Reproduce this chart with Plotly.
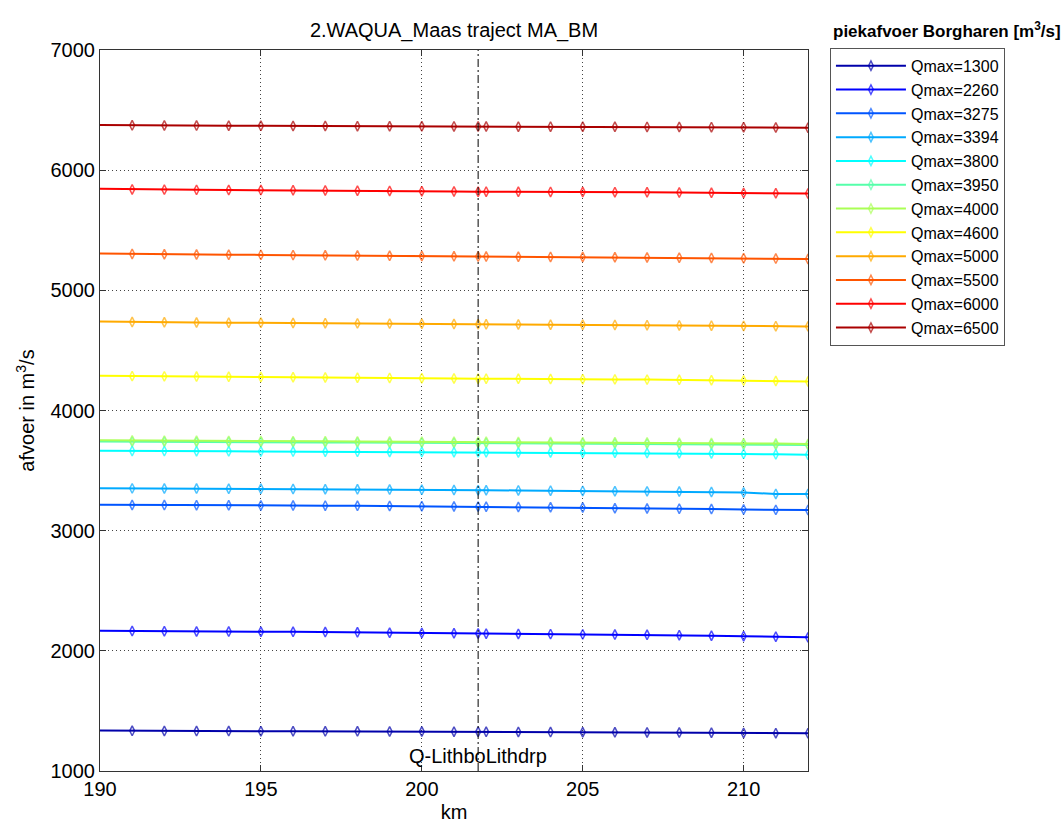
import plotly.graph_objects as go

km = [190, 191, 192, 193, 194, 195, 196, 197, 198, 199, 200, 201, 201.75,
      202, 203, 204, 205, 206, 207, 208, 209, 210, 211, 212]

series_names = ["Qmax=1300", "Qmax=2260", "Qmax=3275", "Qmax=3394", "Qmax=3800", "Qmax=3950",
                "Qmax=4000", "Qmax=4600", "Qmax=5000", "Qmax=5500", "Qmax=6000", "Qmax=6500"]

q1300 = [1336, 1334, 1333, 1332, 1332, 1331, 1331, 1330, 1330, 1329, 1328, 1327, 1326,
         1326, 1325, 1324, 1323, 1322, 1321, 1320, 1319, 1317, 1315, 1314]
q2260 = [2168, 2165, 2163, 2161, 2160, 2159, 2158, 2156, 2154, 2151, 2149, 2146, 2144,
         2143, 2141, 2139, 2137, 2135, 2133, 2130, 2126, 2122, 2117, 2112]
q3275 = [3216, 3214, 3213, 3212, 3211, 3210, 3209, 3208, 3207, 3205, 3204, 3202, 3200,
         3199, 3197, 3195, 3192, 3187, 3185, 3183, 3180, 3176, 3173, 3172]
q3394 = [3354, 3352, 3351, 3350, 3349, 3348, 3347, 3345, 3344, 3342, 3340, 3338, 3336,
         3336, 3335, 3333, 3331, 3328, 3327, 3325, 3322, 3317, 3306, 3305]
q3800 = [3666, 3663, 3662, 3661, 3660, 3659, 3658, 3657, 3656, 3655, 3654, 3653, 3652,
         3652, 3651, 3650, 3649, 3648, 3646, 3644, 3642, 3639, 3635, 3631]
q3950 = [3742, 3740, 3739, 3738, 3737, 3736, 3735, 3734, 3733, 3732, 3731, 3730, 3729,
         3729, 3728, 3727, 3726, 3725, 3724, 3722, 3720, 3718, 3715, 3712]
q4000 = [3752, 3750, 3749, 3748, 3747, 3746, 3745, 3744, 3743, 3742, 3741, 3740, 3739,
         3739, 3738, 3737, 3736, 3735, 3734, 3732, 3730, 3728, 3725, 3722]
q4600 = [4290, 4286, 4284, 4282, 4280, 4278, 4277, 4275, 4273, 4271, 4269, 4267, 4265,
         4265, 4264, 4262, 4261, 4259, 4257, 4255, 4252, 4249, 4246, 4242]
q5000 = [4740, 4736, 4734, 4732, 4731, 4730, 4728, 4727, 4725, 4723, 4721, 4719, 4717,
         4717, 4716, 4714, 4713, 4712, 4710, 4708, 4706, 4704, 4702, 4700]
q5500 = [5307, 5303, 5300, 5298, 5296, 5295, 5293, 5291, 5289, 5287, 5285, 5283, 5281,
         5281, 5280, 5278, 5277, 5275, 5274, 5272, 5270, 5267, 5264, 5261]
q6000 = [5845, 5840, 5838, 5836, 5835, 5834, 5833, 5831, 5829, 5827, 5825, 5823, 5821,
         5821, 5820, 5819, 5818, 5817, 5816, 5814, 5812, 5810, 5808, 5806]
q6500 = [6376, 6373, 6372, 6371, 6370, 6369, 6368, 6368, 6366, 6365, 6365, 6364, 6363,
         6363, 6362, 6362, 6361, 6361, 6360, 6359, 6358, 6357, 6355, 6353]

all_series = [q1300, q2260, q3275, q3394, q3800, q3950, q4000, q4600, q5000, q5500, q6000, q6500]

colors = ["rgb(0,0,170)", "rgb(0,0,255)", "rgb(0,85,255)", "rgb(0,170,255)",
          "rgb(0,255,255)", "rgb(85,255,170)", "rgb(170,255,85)", "rgb(255,255,0)",
          "rgb(255,170,0)", "rgb(255,85,0)", "rgb(255,0,0)", "rgb(170,0,0)"]

location_km = 201.75
location_label = "Q-LithboLithdrp"

x_ticks = [190, 195, 200, 205, 210]
y_ticks = [1000, 2000, 3000, 4000, 5000, 6000, 7000]

FONT = "Liberation Sans, Arial, Helvetica, sans-serif"
BIG = 20

fig = go.Figure()
marker_sizes = [0] + [7] * (len(km) - 1)
for name, vals, col in zip(series_names, all_series, colors):
    fig.add_trace(go.Scatter(
        x=km, y=vals, name=name, mode="lines+markers",
        line=dict(color=col, width=2),
        marker=dict(symbol="diamond-tall-open", size=marker_sizes,
                    color=col, line=dict(color=col, width=1.5)),
    ))

fig.add_vline(x=location_km, line=dict(color="black", width=1, dash="8px,3px,2px,3px"))
fig.add_annotation(x=location_km, y=0, xref="x", yref="y domain", yanchor="bottom",
                   yshift=2, text=location_label, showarrow=False,
                   font=dict(family=FONT, size=BIG, color="black"))

fig.add_annotation(x=1.196, y=1.028, xref="paper", yref="paper", xanchor="center",
                   yanchor="middle", showarrow=False,
                   text="<b>piekafvoer Borgharen [m<sup>3</sup>/s]</b>",
                   font=dict(family=FONT, size=17, color="black"))

axis_common = dict(
    showline=True, linecolor="#333", linewidth=1, mirror="ticks",
    ticks="inside", ticklen=6, tickcolor="#333",
    showgrid=True, gridcolor="#444", griddash="1px,3px", gridwidth=1,
    zeroline=False, tickfont=dict(family=FONT, size=BIG, color="black"),
    automargin=False,
)

fig.update_xaxes(range=[190, 212], tickvals=x_ticks,
                 title=dict(text="km", font=dict(family=FONT, size=BIG, color="black"), standoff=5),
                 **axis_common)
fig.update_yaxes(range=[1000, 7000], tickvals=y_ticks,
                 title=dict(text="afvoer in m<sup>3</sup>/s",
                            font=dict(family=FONT, size=BIG, color="black"), standoff=10),
                 **axis_common)

fig.update_layout(
    width=1062, height=823,
    margin=dict(l=100, r=254, t=50, b=52, autoexpand=False),
    paper_bgcolor="white", plot_bgcolor="white",
    title=dict(text="2.WAQUA_Maas traject MA_BM", x=(100 + 354) / 1062, xanchor="center",
               y=1 - 30 / 823, yanchor="middle",
               font=dict(family=FONT, size=BIG, color="black")),
    font=dict(family=FONT, size=16, color="black"),
    legend=dict(x=1.031, y=1.003, xanchor="left", yanchor="top",
                bordercolor="#555", borderwidth=1, bgcolor="white",
                font=dict(family=FONT, size=16, color="black"),
                tracegroupgap=0, itemwidth=70),
    showlegend=True,
)

fig.write_html("out.html")
